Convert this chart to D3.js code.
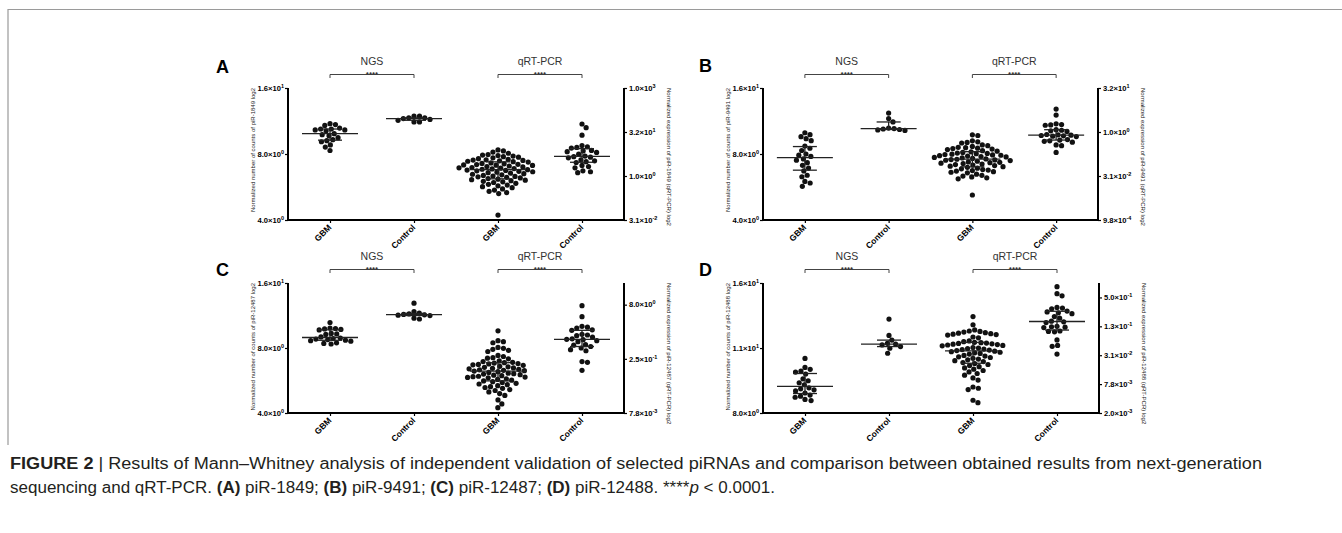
<!DOCTYPE html>
<html>
<head>
<meta charset="utf-8">
<script src="https://cdn.jsdelivr.net/npm/d3@7"></script>
<style>
body { margin: 0; background: #fff; }
svg { display: block; font-family: Arial, "Liberation Sans", sans-serif; }
</style>
</head>
<body>
<script>
(function() {

	// ---- data ----
	var categories = ["GBM", "Control", "GBM", "Control"];
	var methods = ["NGS", "qRT-PCR"];
	var letters = ["A", "B", "C", "D"];
	var piRNAs = ["piR-1849", "piR-9491", "piR-12487", "piR-12488"];

	// left (NGS) axis: domain, ticks, labels
	var ngsDomains = [[4, 16], [4, 16], [4, 16], [8, 16]];
	var ngsTicks = [[4, 8, 16], [4, 8, 16], [4, 8, 16], [8, 11.31, 16]];
	var ngsTickLabels = [
		["4.0×10^0", "8.0×10^0", "1.6×10^1"],
		["4.0×10^0", "8.0×10^0", "1.6×10^1"],
		["4.0×10^0", "8.0×10^0", "1.6×10^1"],
		["8.0×10^0", "1.1×10^1", "1.6×10^1"]
	];

	// right (qRT-PCR) axis
	var pcrDomains = [[0.03125, 1024], [0.0009766, 32], [0.0078125, 32], [0.001953, 1]];
	var pcrTicks = [
		[1024, 32, 1, 0.03125],
		[32, 1, 0.03125, 0.0009766],
		[8, 0.25, 0.0078125],
		[0.5, 0.125, 0.03125, 0.0078125, 0.001953]
	];
	var pcrTickLabels = [
		["1.0×10^3", "3.2×10^1", "1.0×10^0", "3.1×10^-2"],
		["3.2×10^1", "1.0×10^0", "3.1×10^-2", "9.8×10^-4"],
		["8.0×10^0", "2.5×10^-1", "7.8×10^-3"],
		["5.0×10^-1", "1.3×10^-1", "3.1×10^-2", "7.8×10^-3", "2.0×10^-3"]
	];

	// panel A: piR-1849
	var ngsGbmA = [11.0, 10.9, 10.8, 10.5, 10.4, 10.4, 10.3, 10.3, 10.2, 9.9, 9.8, 9.7, 9.5, 9.3, 9.2, 9.1, 8.8, 8.6, 8.3];
	var ngsCtrlA = [11.9, 11.9, 11.7, 11.7, 11.6, 11.5, 11.4, 11.2, 11.2];
	var pcrGbmA = [7.8, 7.2, 6.6, 6.0, 5.4, 5.2, 5.0, 4.8, 4.6, 4.4, 4.2, 3.9, 3.7, 3.6, 3.5, 3.4, 3.3, 3.2, 3.1, 3.0,
		2.8, 2.7, 2.6, 2.5, 2.45, 2.4, 2.35, 2.3, 2.2, 2.1, 2.05, 1.95, 1.9, 1.85, 1.8, 1.75, 1.7, 1.65, 1.6, 1.55,
		1.5, 1.45, 1.4, 1.35, 1.3, 1.25, 1.2, 1.15, 1.1, 1.05, 1.0, 0.97, 0.94, 0.9, 0.86, 0.82, 0.78, 0.75, 0.72,
		0.69, 0.66, 0.63, 0.6, 0.56, 0.52, 0.49, 0.46, 0.43, 0.4, 0.36, 0.33, 0.3, 0.27, 0.25, 0.046];
	var pcrCtrlA = [60, 45, 25, 11, 10, 9.5, 9, 7.5, 7.2, 6.8, 6.4, 5.6, 4.8, 4.6, 4.4, 4.2, 3.6, 3.3, 3.1, 2.9, 2.3, 2.1, 1.9, 1.5, 1.4, 1.3];

	// panel B: piR-9491
	var ngsGbmB = [10.0, 9.8, 9.6, 9.4, 9.2, 8.7, 8.5, 8.3, 8.0, 7.9, 7.8, 7.6, 7.5, 7.3, 7.1, 6.9, 6.7, 6.4, 6.3, 6.0, 5.9, 5.7];
	var ngsCtrlB = [12.3, 11.6, 11.2, 10.5, 10.45, 10.4, 10.35, 10.3, 10.25];
	var pcrGbmB = [0.8, 0.76, 0.5, 0.46, 0.44, 0.42, 0.36, 0.34, 0.32, 0.3, 0.29, 0.28, 0.27, 0.26, 0.25, 0.23, 0.22,
		0.21, 0.2, 0.19, 0.185, 0.18, 0.175, 0.17, 0.165, 0.16, 0.155, 0.15, 0.145, 0.14, 0.135, 0.13, 0.125, 0.12,
		0.117, 0.114, 0.111, 0.108, 0.105, 0.1, 0.095, 0.092, 0.089, 0.086, 0.083, 0.08, 0.077, 0.074, 0.071, 0.068,
		0.065, 0.062, 0.058, 0.055, 0.052, 0.05, 0.048, 0.046, 0.044, 0.042, 0.04, 0.036, 0.033, 0.031, 0.029, 0.027,
		0.025, 0.007];
	var pcrCtrlB = [6.1, 3.8, 1.9, 1.8, 1.75, 1.7, 1.2, 1.15, 1.1, 1.05, 0.82, 0.8, 0.78, 0.76, 0.74, 0.72, 0.7, 0.55, 0.53, 0.5, 0.48, 0.45, 0.36, 0.34, 0.2];

	// panel C: piR-12487
	var ngsGbmC = [10.5, 9.9, 9.85, 9.8, 9.75, 9.7, 9.35, 9.3, 9.25, 9.0, 8.9, 8.85, 8.8, 8.75, 8.7, 8.65, 8.6, 8.45, 8.4, 8.35];
	var ngsCtrlC = [12.9, 11.8, 11.6, 11.5, 11.45, 11.4, 11.35, 11.3, 11.0, 10.9];
	var pcrGbmC = [1.5, 0.8, 0.75, 0.7, 0.52, 0.49, 0.46, 0.43, 0.4, 0.31, 0.29, 0.27, 0.26, 0.25, 0.22, 0.21, 0.2,
		0.195, 0.19, 0.185, 0.18, 0.175, 0.17, 0.165, 0.155, 0.15, 0.145, 0.14, 0.136, 0.132, 0.128, 0.124, 0.12,
		0.117, 0.114, 0.11, 0.105, 0.1, 0.097, 0.094, 0.091, 0.088, 0.085, 0.082, 0.08, 0.078, 0.076, 0.074, 0.07,
		0.067, 0.064, 0.061, 0.058, 0.055, 0.052, 0.05, 0.048, 0.045, 0.042, 0.04, 0.038, 0.035, 0.033, 0.03, 0.027,
		0.024, 0.018, 0.014, 0.011];
	var pcrCtrlC = [7.5, 3.7, 2.0, 1.9, 1.8, 1.6, 1.55, 1.2, 1.15, 1.1, 1.0, 0.9, 0.87, 0.85, 0.8, 0.75, 0.62, 0.6, 0.55, 0.5, 0.45, 0.42, 0.21, 0.2, 0.12];

	// panel D: piR-12488
	var ngsGbmD = [10.7, 10.2, 10.1, 10.0, 9.95, 9.85, 9.6, 9.5, 9.4, 9.3, 9.15, 9.1, 9.05, 9.0, 8.9, 8.8, 8.75, 8.7, 8.6, 8.55];
	var ngsCtrlD = [13.2, 12.1, 11.8, 11.6, 11.55, 11.5, 11.4, 11.3, 11.0];
	var pcrGbmD = [0.2, 0.135, 0.105, 0.1, 0.098, 0.095, 0.092, 0.09, 0.088, 0.086, 0.084, 0.082, 0.075, 0.072, 0.062,
		0.06, 0.058, 0.057, 0.056, 0.055, 0.054, 0.053, 0.052, 0.051, 0.05, 0.049, 0.045, 0.044, 0.043, 0.042, 0.041,
		0.04, 0.039, 0.038, 0.037, 0.036, 0.035, 0.034, 0.033, 0.031, 0.03, 0.029, 0.028, 0.027, 0.026, 0.025, 0.024,
		0.023, 0.022, 0.021, 0.02, 0.019, 0.018, 0.017, 0.016, 0.015, 0.014, 0.013, 0.012, 0.0105, 0.0095, 0.0068,
		0.0064, 0.006, 0.0036, 0.0032];
	var pcrCtrlD = [0.84, 0.6, 0.54, 0.31, 0.3, 0.29, 0.26, 0.25, 0.24, 0.23, 0.2, 0.185, 0.16, 0.155, 0.15, 0.125, 0.122, 0.12, 0.118, 0.1, 0.098, 0.096, 0.065, 0.05, 0.048, 0.033];

	var groups = [
		[ngsGbmA, ngsCtrlA, pcrGbmA, pcrCtrlA],
		[ngsGbmB, ngsCtrlB, pcrGbmB, pcrCtrlB],
		[ngsGbmC, ngsCtrlC, pcrGbmC, pcrCtrlC],
		[ngsGbmD, ngsCtrlD, pcrGbmD, pcrCtrlD]
	];

	// ---- layout ----
	var width = 1342, height = 533;
	var panels = [
		{left: 288, right: 624, top: 88, bottom: 220, lx: 216, ly: 73},
		{left: 763, right: 1098, top: 88, bottom: 220, lx: 699, ly: 72},
		{left: 288, right: 624, top: 283, bottom: 413, lx: 216, ly: 276},
		{left: 763, right: 1099, top: 283, bottom: 413, lx: 699, ly: 276}
	];
	var r = 2.6;

	var svg = d3.select("body").append("svg")
		.attr("width", width)
		.attr("height", height);

	// figure frame
	svg.append("path")
		.attr("d", "M8,445V9.5H1342")
		.attr("fill", "none")
		.attr("stroke", "#9a9a9a")
		.attr("stroke-width", 1.2);

	// label with superscript exponent, "1.6×10^1"
	function expLabel(sel, s) {
		var parts = s.split("^");
		sel.append("tspan").text(parts[0]);
		sel.append("tspan").attr("dy", -3).attr("font-size", "5.5px").text(parts[1]);
	}

	// simple beeswarm: place each dot as near the centre as it fits
	function swarm(values, y) {
		var d = 2 * r + 0.3;
		var pts = values.map(function(v) { return {v: v, y: y(v), dx: 0}; })
			.sort(function(a, b) { return a.y - b.y; });
		var placed = [];
		pts.forEach(function(p) {
			var blocked = [];
			placed.forEach(function(q) {
				var dy = Math.abs(q.y - p.y);
				if (dy < d) {
					var w = Math.sqrt(d * d - dy * dy);
					blocked.push([q.dx - w, q.dx + w]);
				}
			});
			var cands = [0];
			blocked.forEach(function(b) { cands.push(b[0], b[1]); });
			cands.sort(function(a, b) { return Math.abs(a) - Math.abs(b) || b - a; });
			for (var i = 0; i < cands.length; i++) {
				var c = cands[i];
				var ok = blocked.every(function(b) { return c <= b[0] + 1e-6 || c >= b[1] - 1e-6; });
				if (ok) { p.dx = c; break; }
			}
			placed.push(p);
		});
		return pts;
	}

	panels.forEach(function(P, pi) {
		var g = svg.append("g");

		var x = d3.scalePoint()
			.domain(d3.range(categories.length))
			.range([P.left, P.right])
			.padding(0.5);

		var yL = d3.scaleLog().base(2).domain(ngsDomains[pi]).range([P.bottom, P.top]);
		var yR = d3.scaleLog().base(2).domain(pcrDomains[pi]).range([P.bottom, P.top]);

		// panel letter
		g.append("text")
			.attr("x", P.lx)
			.attr("y", P.ly)
			.attr("font-size", "18px")
			.attr("font-weight", "bold")
			.text(letters[pi]);

		// left axis
		var axL = g.append("g").attr("transform", "translate(" + P.left + ",0)")
			.call(d3.axisLeft(yL).tickValues(ngsTicks[pi]).tickSize(3).tickFormat(""));
		axL.select(".domain").attr("d", "M0," + P.top + "V" + P.bottom).attr("stroke-width", 2);
		axL.selectAll(".tick line").attr("stroke-width", 1.2);
		ngsTicks[pi].forEach(function(t, i) {
			g.append("text")
				.attr("x", P.left - 4)
				.attr("y", yL(t) + 2.8)
				.attr("text-anchor", "end")
				.attr("font-size", "7.6px")
				.attr("font-weight", "bold")
				.call(expLabel, ngsTickLabels[pi][i]);
		});

		// right axis
		var axR = g.append("g").attr("transform", "translate(" + P.right + ",0)")
			.call(d3.axisRight(yR).tickValues(pcrTicks[pi]).tickSize(3).tickFormat(""));
		axR.select(".domain").attr("d", "M0," + P.top + "V" + P.bottom).attr("stroke-width", 2);
		axR.selectAll(".tick line").attr("stroke-width", 1.2);
		pcrTicks[pi].forEach(function(t, i) {
			g.append("text")
				.attr("x", P.right + 5)
				.attr("y", yR(t) + 2.8)
				.attr("font-size", "7.6px")
				.attr("font-weight", "bold")
				.call(expLabel, pcrTickLabels[pi][i]);
		});

		// x axis
		var axX = g.append("g").attr("transform", "translate(0," + P.bottom + ")")
			.call(d3.axisBottom(x).tickSize(3).tickFormat(""));
		axX.select(".domain").attr("d", "M" + P.left + ",0H" + P.right).attr("stroke-width", 2);
		axX.selectAll(".tick line").attr("stroke-width", 1.2);
		categories.forEach(function(c, i) {
			g.append("text")
				.attr("transform", "translate(" + (x(i) + 2) + "," + (P.bottom + 8) + ") rotate(-45)")
				.attr("text-anchor", "end")
				.attr("font-size", "8.5px")
				.attr("font-weight", "bold")
				.text(c);
		});

		// axis titles
		g.append("text")
			.attr("transform", "translate(" + (P.left - 33) + "," + P.top + ") rotate(-90)")
			.attr("text-anchor", "end")
			.attr("font-size", "6px")
			.attr("fill", "#222")
			.text("Normalized number of counts of " + piRNAs[pi] + " log2");
		g.append("text")
			.attr("transform", "translate(" + (P.right + 43) + "," + P.top + ") rotate(90)")
			.attr("font-size", "6px")
			.attr("fill", "#222")
			.text("Normalized expression of " + piRNAs[pi] + " (qRT-PCR) log2");

		// brackets with method name and significance
		methods.forEach(function(m, mi) {
			var x0 = x(mi * 2), x1 = x(mi * 2 + 1), by = P.top - 13.5;
			g.append("path")
				.attr("d", "M" + x0 + "," + (by + 3.5) + "V" + by + "H" + x1 + "V" + (by + 3.5))
				.attr("fill", "none")
				.attr("stroke", "#444")
				.attr("stroke-width", 1);
			g.append("text")
				.attr("x", (x0 + x1) / 2)
				.attr("y", P.top - 23)
				.attr("text-anchor", "middle")
				.attr("font-size", "10.5px")
				.attr("fill", "#333")
				.text(m);
			g.append("text")
				.attr("x", (x0 + x1) / 2)
				.attr("y", P.top - 11.5)
				.attr("text-anchor", "middle")
				.attr("font-size", "8px")
				.attr("font-weight", "bold")
				.attr("fill", "#333")
				.text("****");
		});

		// dots + median/IQR
		groups[pi].forEach(function(vals, gi) {
			var y = gi < 2 ? yL : yR;
			var cx = x(gi);
			var pts = swarm(vals, y);

			g.append("g").selectAll("circle")
				.data(pts)
				.enter().append("circle")
				.attr("cx", function(d) { return cx + d.dx; })
				.attr("cy", function(d) { return d.y; })
				.attr("r", r)
				.attr("fill", "#111");

			var sorted = vals.slice().sort(d3.ascending);
			var med = d3.median(sorted);
			var q1 = d3.quantile(sorted, 0.25);
			var q3 = d3.quantile(sorted, 0.75);

			var st = g.append("g").attr("stroke", "#222").attr("stroke-width", 1.3).attr("fill", "none");
			st.append("line").attr("x1", cx - 28).attr("x2", cx + 28).attr("y1", y(med)).attr("y2", y(med));
			st.append("line").attr("x1", cx - 12).attr("x2", cx + 12).attr("y1", y(q1)).attr("y2", y(q1));
			st.append("line").attr("x1", cx - 12).attr("x2", cx + 12).attr("y1", y(q3)).attr("y2", y(q3));
			st.append("line").attr("x1", cx).attr("x2", cx).attr("y1", y(q1)).attr("y2", y(q3));
		});
	});

	// caption
	var cap = svg.append("g").attr("font-size", "16px").attr("fill", "#231f20");
	var line1 = cap.append("text").attr("x", 10).attr("y", 469)
		.attr("textLength", 1252).attr("lengthAdjust", "spacingAndGlyphs");
	line1.append("tspan").attr("font-weight", "bold").text("FIGURE 2");
	line1.append("tspan").text(" | Results of Mann–Whitney analysis of independent validation of selected piRNAs and comparison between obtained results from next-generation");

	var line2 = cap.append("text").attr("x", 10).attr("y", 493)
		.attr("textLength", 765).attr("lengthAdjust", "spacingAndGlyphs");
	var parts2 = [
		["sequencing and qRT-PCR. ", ""], ["(A)", "b"], [" piR-1849; ", ""], ["(B)", "b"], [" piR-9491; ", ""],
		["(C)", "b"], [" piR-12487; ", ""], ["(D)", "b"], [" piR-12488. ****", ""], ["p", "i"], [" < 0.0001.", ""]
	];
	parts2.forEach(function(p) {
		line2.append("tspan")
			.attr("font-weight", p[1] === "b" ? "bold" : null)
			.attr("font-style", p[1] === "i" ? "italic" : null)
			.text(p[0]);
	});

})();
</script>
</body>
</html>
